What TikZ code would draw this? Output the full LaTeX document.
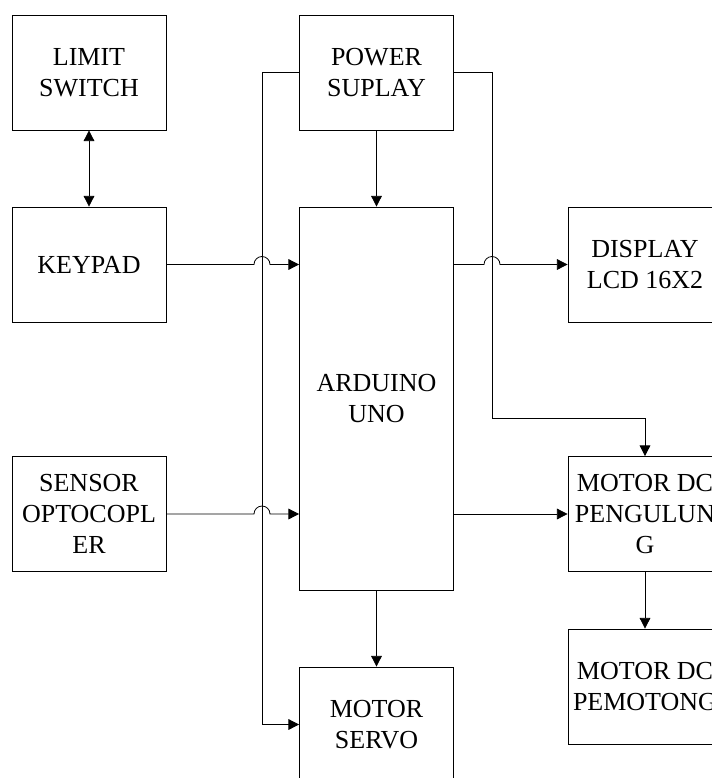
\documentclass[tikz,border=0pt]{standalone}
\usepackage{fontspec}
\setmainfont{Liberation Serif}
\usetikzlibrary{arrows.meta, calc}

\begin{document}
\begin{tikzpicture}[x=0.75pt, y=-0.75pt,
    box/.style={draw, line width=0.6pt, inner sep=0pt, minimum width=115.5pt,
        minimum height=86.25pt, align=center,
        font=\fontsize{19.5}{23.25}\selectfont},
    wire/.style={line width=0.6pt},
    arr/.style={wire, -{Triangle[length=8pt, width=8pt]}},
    both/.style={wire, {Triangle[length=8pt, width=8pt]}-{Triangle[length=8pt, width=8pt]}}]
    % Page
    \clip (0,0) rectangle (712,778);

    % Blocks
    \node[box] (limit) at (89,72.5) {LIMIT\\SWITCH};
    \node[box] (keypad) at (89,264.5) {KEYPAD};
    \node[box] (sensor) at (89,514) {SENSOR\\OPTOCOPL\\ER};
    \node[box] (power) at (376.5,72.5) {POWER\\SUPLAY};
    \node[box, minimum height=287.25pt] (uno) at (376.5,398.5) {ARDUINO\\UNO};
    \node[box] (servo) at (376.5,724.5) {MOTOR\\SERVO};
    \node[box] (lcd) at (645,264.5) {DISPLAY\\LCD 16X2};
    \node[box] (roll) at (645,514) {MOTOR DC\\PENGULUN\\G};
    \node[box] (cut) at (645,686.5) {MOTOR DC\\PEMOTONG};

    % Supply lines
    \coordinate (lbus) at (262,72.5);
    \coordinate (rbus) at (492,72.5);
    \coordinate (rturn) at (492,418);
    \draw[arr] (power.south) -- (uno.north);
    \draw[arr] (power.west) -- (lbus) |- (servo.west);
    \draw[arr] (power.east) -- (rbus) -- (rturn) -| (roll.north);

    % Signal lines (with hops over the supply lines)
    \draw[both] (limit.south) -- (keypad.north);
    \draw[arr] (keypad.east) -- ($(keypad.east -| lbus)+(-6pt,0)$)
        arc[start angle=180, end angle=0, radius=6pt] -- (keypad.east -| uno.west);
    \draw[arr] (sensor.east) -- ($(sensor.east -| lbus)+(-6pt,0)$)
        arc[start angle=180, end angle=0, radius=6pt] -- (sensor.east -| uno.west);
    \draw[arr] (uno.east |- lcd.west) -- ($(lcd.west -| rbus)+(-6pt,0)$)
        arc[start angle=180, end angle=0, radius=6pt] -- (lcd.west);
    \draw[arr] (uno.east |- roll.west) -- (roll.west);
    \draw[arr] (uno.south) -- (servo.north);
    \draw[arr] (roll.south) -- (cut.north);
\end{tikzpicture}
\end{document}
